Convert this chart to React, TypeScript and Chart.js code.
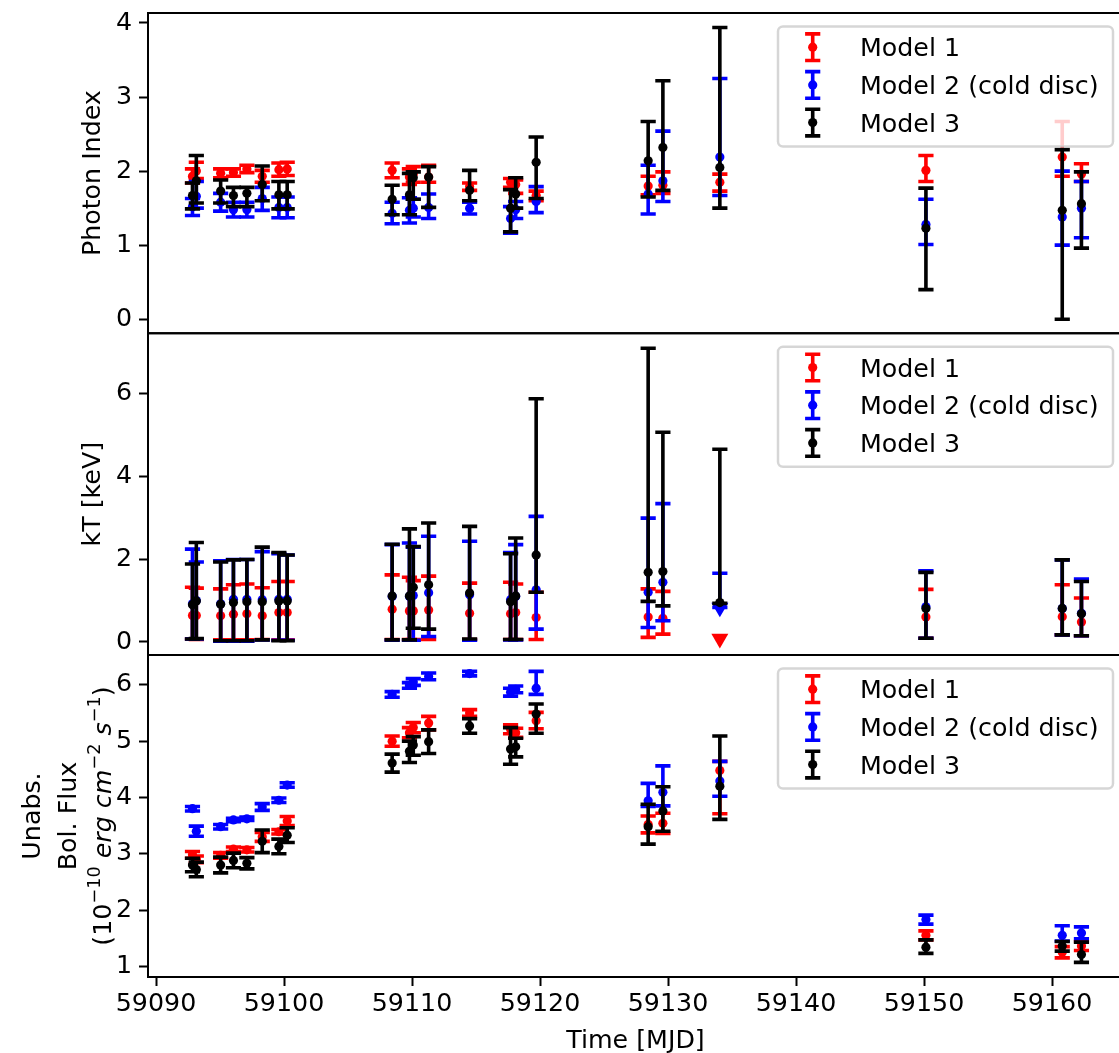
import React, { useEffect, useRef } from 'react';
import { Chart, registerables } from 'chart.js';

Chart.register(...registerables);

const FONT_FAMILY = '"DejaVu Sans", sans-serif';
const FONT_SIZE = 25.3;

// Observation epochs (MJD)
const mjd = [
  59092.85, 59093.15, 59095.05, 59096.05, 59097.1, 59098.3, 59099.6, 59100.25,
  59108.45, 59109.8, 59110.1, 59111.3, 59114.5, 59117.7, 59118.1, 59119.7,
  59128.45, 59129.6, 59134.05, 59150.15, 59160.8, 59162.3,
];

const xTicks = [59090, 59100, 59110, 59120, 59130, 59140, 59150, 59160];
const photonTicks = [0, 1, 2, 3, 4];
const kTTicks = [0, 2, 4, 6];
const fluxTicks = [1, 2, 3, 4, 5, 6];

const seriesNames = ['Model 1', 'Model 2 (cold disc)', 'Model 3'];

// Photon index
const photonM1 = [1.93, 2.0, 1.97, 1.98, 2.03, 1.93, 2.02, 2.03, 2.01, 1.92, 1.96, 1.92, 1.79, 1.85, 1.82, 1.67, 1.8, 1.81, 1.85, 2.01, 2.19, 1.96];
const photonM1Err = [[1.84, 2.03], [1.9, 2.12], [1.91, 2.03], [1.93, 2.03], [1.98, 2.08], [1.85, 2.01], [1.93, 2.11], [1.94, 2.12], [1.91, 2.11], [1.82, 2.03], [1.85, 2.06], [1.85, 2.08], [1.74, 1.84], [1.78, 1.9], [1.7, 1.88], [1.6, 1.73], [1.68, 1.93], [1.7, 1.99], [1.73, 1.96], [1.86, 2.21], [1.93, 2.67], [1.86, 2.1]];
const photonM2 = [1.52, 1.66, 1.58, 1.48, 1.48, 1.63, 1.51, 1.51, 1.43, 1.47, 1.5, 1.51, 1.5, 1.36, 1.48, 1.59, 1.69, 1.87, 2.19, 1.28, 1.38, 1.5];
const photonM2Err = [[1.4, 1.63], [1.5, 1.86], [1.46, 1.7], [1.38, 1.58], [1.38, 1.58], [1.47, 1.78], [1.37, 1.65], [1.37, 1.65], [1.29, 1.58], [1.3, 1.64], [1.38, 1.62], [1.36, 1.69], [1.42, 1.58], [1.16, 1.52], [1.36, 1.59], [1.44, 1.79], [1.42, 2.08], [1.59, 2.54], [1.67, 3.25], [1.01, 1.62], [1.0, 2.0], [1.1, 1.86]];
const photonM3 = [1.67, 1.87, 1.73, 1.67, 1.7, 1.82, 1.68, 1.68, 1.62, 1.68, 1.91, 1.92, 1.74, 1.5, 1.69, 2.12, 2.14, 2.32, 2.05, 1.23, 1.47, 1.56];
const photonM3Err = [[1.49, 1.84], [1.57, 2.21], [1.57, 1.88], [1.52, 1.78], [1.52, 1.78], [1.6, 2.07], [1.49, 1.86], [1.49, 1.86], [1.41, 1.81], [1.41, 1.97], [1.62, 1.99], [1.51, 2.06], [1.6, 2.01], [1.18, 1.75], [1.5, 1.91], [1.63, 2.46], [1.65, 2.67], [1.74, 3.22], [1.5, 3.94], [0.4, 1.77], [0.0, 2.29], [0.96, 1.99]];

// Temperature kT [keV]; index 18 of models 1 and 2 is an upper limit
const kTM1 = [0.64, 0.64, 0.63, 0.67, 0.68, 0.63, 0.71, 0.71, 0.79, 0.75, 0.75, 0.77, 0.69, 0.68, 0.71, 0.59, 0.6, 0.57, 0.08, 0.6, 0.61, 0.48];
const kTM1Err = [[0.07, 1.32], [0.06, 1.3], [0.05, 1.28], [0.05, 1.38], [0.05, 1.4], [0.06, 1.31], [0.05, 1.46], [0.05, 1.46], [0.06, 1.62], [0.06, 1.56], [0.06, 1.48], [0.06, 1.59], [0.06, 1.42], [0.06, 1.44], [0.06, 1.4], [0.06, 1.2], [0.11, 1.28], [0.19, 1.22], null, [0.09, 1.27], [0.17, 1.38], [0.15, 1.06]];
const kTM2 = [0.92, 1.0, 0.92, 1.03, 1.03, 1.02, 1.03, 1.03, 1.1, 1.1, 1.12, 1.19, 1.14, 1.02, 1.1, 1.26, 1.2, 1.44, 0.83, 0.85, 0.81, 0.69];
const kTM2Err = [[0.07, 2.24], [0.07, 1.93], [0.02, 1.96], [0.02, 1.99], [0.02, 1.99], [0.05, 2.18], [0.04, 2.13], [0.04, 2.1], [0.04, 2.35], [0.04, 2.39], [0.04, 2.29], [0.13, 2.55], [0.04, 2.43], [0.05, 2.16], [0.05, 2.35], [0.31, 3.03], [0.35, 2.99], [0.51, 3.34], [0.83, 1.66], [0.09, 1.72], [0.17, 1.98], [0.15, 1.52]];
const kTM3 = [0.9, 0.99, 0.91, 0.95, 0.97, 0.97, 0.99, 0.99, 1.11, 1.11, 1.32, 1.38, 1.18, 0.97, 1.11, 2.1, 1.68, 1.7, 0.95, 0.81, 0.81, 0.68];
const kTM3Err = [[0.07, 1.88], [0.08, 2.4], [0.03, 1.93], [0.03, 1.98], [0.03, 1.99], [0.05, 2.29], [0.03, 2.16], [0.03, 2.1], [0.05, 2.36], [0.05, 2.73], [0.33, 2.3], [0.31, 2.87], [0.07, 2.79], [0.06, 2.13], [0.06, 2.51], [1.2, 5.87], [0.98, 7.09], [0.87, 5.06], [0.93, 4.65], [0.09, 1.68], [0.17, 1.98], [0.15, 1.46]];
const kTUpperLimits = [18];

// Unabsorbed bolometric flux [1e-10 erg/cm^2/s]
const fluxM1 = [2.98, 2.9, 2.97, 3.08, 3.07, 3.3, 3.39, 3.58, 5.0, 5.15, 5.24, 5.32, 5.5, 5.21, 5.15, 5.36, 3.52, 3.54, 4.48, 1.55, 1.25, 1.36];
const fluxM1Err = [[2.92, 3.04], [2.84, 2.96], [2.92, 3.02], [3.04, 3.12], [3.03, 3.11], [3.22, 3.38], [3.35, 3.43], [3.5, 3.66], [4.91, 5.09], [5.06, 5.24], [5.15, 5.33], [5.2, 5.44], [5.44, 5.56], [5.13, 5.29], [5.07, 5.23], [5.22, 5.51], [3.37, 3.67], [3.36, 3.72], [3.71, 4.64], [1.47, 1.63], [1.15, 1.35], [1.28, 1.44]];
const fluxM2 = [3.8, 3.4, 3.48, 3.6, 3.62, 3.83, 3.95, 4.22, 5.83, 5.99, 6.05, 6.15, 6.2, 5.87, 5.92, 5.94, 3.94, 4.09, 4.29, 1.83, 1.55, 1.59];
const fluxM2Err = [[3.76, 3.84], [3.31, 3.49], [3.44, 3.52], [3.57, 3.63], [3.59, 3.65], [3.77, 3.89], [3.91, 3.99], [4.18, 4.26], [5.78, 5.88], [5.94, 6.04], [5.99, 6.11], [6.09, 6.21], [6.16, 6.24], [5.8, 5.94], [5.86, 5.98], [5.83, 6.24], [3.84, 4.25], [3.85, 4.56], [4.02, 4.64], [1.75, 1.91], [1.45, 1.72], [1.49, 1.7]];
const fluxM3 = [2.8, 2.72, 2.8, 2.88, 2.83, 3.22, 3.13, 3.33, 4.61, 4.82, 4.93, 4.99, 5.27, 4.86, 4.9, 5.48, 3.48, 3.76, 4.2, 1.34, 1.36, 1.21];
const fluxM3Err = [[2.68, 2.92], [2.59, 2.85], [2.66, 2.94], [2.75, 3.01], [2.73, 2.93], [3.02, 3.42], [3.0, 3.26], [3.2, 3.46], [4.45, 4.77], [4.62, 5.0], [4.75, 5.08], [4.78, 5.2], [5.14, 5.4], [4.59, 5.24], [4.72, 5.05], [5.14, 5.66], [3.17, 3.88], [3.4, 4.19], [3.61, 5.09], [1.23, 1.47], [1.27, 1.44], [1.07, 1.43]];

const RED = '#ff0000';
const BLUE = '#0000ff';
const BLACK = '#000000';
const colors = [RED, BLUE, BLACK];

const BAR_WIDTH = 3.6;
const CAP_HALF = 7.6;
const DOT_RADIUS = 4.6;

function makeSeries(axis: string, vals: number[], errs: (number[] | null)[], model: number, limits: number[] = []) {
  const color = colors[model];
  return {
    type: 'scatter' as const,
    label: seriesNames[model],
    yAxisID: axis,
    order: 3 - model,
    data: mjd.map((x, i) => ({
      x,
      y: vals[i],
      lo: errs[i] ? (errs[i] as number[])[0] : null,
      hi: errs[i] ? (errs[i] as number[])[1] : null,
    })),
    backgroundColor: color,
    borderColor: color,
    pointBackgroundColor: color,
    pointBorderWidth: 0,
    pointRadius: mjd.map((_, i) => (limits.includes(i) ? 9.8 : DOT_RADIUS)),
    pointStyle: mjd.map((_, i) => (limits.includes(i) ? 'triangle' : 'circle')),
    pointRotation: mjd.map((_, i) => (limits.includes(i) ? 180 : 0)),
    showLine: false,
    clip: false as const,
  };
}

// Vertical error bars with caps, drawn just before each series' markers
const errorBarPlugin = {
  id: 'errorBars',
  beforeDatasetDraw(chart: any, args: any) {
    const ds = chart.data.datasets[args.index];
    const yScale = chart.scales[ds.yAxisID];
    const ctx = chart.ctx;
    ctx.save();
    ctx.strokeStyle = ds.borderColor;
    ctx.lineWidth = BAR_WIDTH;
    ctx.lineCap = 'butt';
    args.meta.data.forEach((pt: any, i: number) => {
      const d = ds.data[i];
      if (d.lo == null || d.hi == null) return;
      const x = pt.x;
      const yLo = yScale.getPixelForValue(d.lo);
      const yHi = yScale.getPixelForValue(d.hi);
      ctx.beginPath();
      ctx.moveTo(x, yLo);
      ctx.lineTo(x, yHi);
      ctx.moveTo(x - CAP_HALF, yLo);
      ctx.lineTo(x + CAP_HALF, yLo);
      ctx.moveTo(x - CAP_HALF, yHi);
      ctx.lineTo(x + CAP_HALF, yHi);
      ctx.stroke();
    });
    ctx.restore();
  },
};

type Seg = { t: string; italic?: boolean; sup?: boolean };

function drawRich(ctx: CanvasRenderingContext2D, segs: Seg[], cx: number, baseline: number) {
  const font = (s: Seg) =>
    `${s.italic ? 'italic ' : ''}${s.sup ? FONT_SIZE * 0.7 : FONT_SIZE}px ${FONT_FAMILY}`;
  let total = 0;
  const widths = segs.map((s) => {
    ctx.font = font(s);
    const w = ctx.measureText(s.t).width;
    total += w;
    return w;
  });
  let x = cx - total / 2;
  ctx.textAlign = 'left';
  ctx.textBaseline = 'alphabetic';
  segs.forEach((s, i) => {
    ctx.font = font(s);
    ctx.fillText(s.t, x, s.sup ? baseline - FONT_SIZE * 0.42 : baseline);
    x += widths[i];
  });
}

// Panel frames, axis titles and per-panel legends
const decorPlugin = {
  id: 'decor',
  afterDatasetsDraw(chart: any) {
    const ctx: CanvasRenderingContext2D = chart.ctx;
    const { left, right } = chart.chartArea;
    const panels = ['yPI', 'yKT', 'yFlux'].map((id) => chart.scales[id]);

    // frames
    ctx.save();
    ctx.strokeStyle = BLACK;
    ctx.lineWidth = 2;
    panels.forEach((s: any) => {
      ctx.beginPath();
      ctx.moveTo(right + 4, s.top);
      ctx.lineTo(left, s.top);
      ctx.lineTo(left, s.bottom);
      ctx.lineTo(right + 4, s.bottom);
      ctx.stroke();
    });
    ctx.restore();

    // legends
    panels.forEach((s: any) => {
      const bx = 778;
      const by = s.top + 13.5;
      const bw = 335;
      const bh = 120;
      ctx.save();
      ctx.beginPath();
      (ctx as any).roundRect(bx, by, bw, bh, 5);
      ctx.fillStyle = 'rgba(255,255,255,0.8)';
      ctx.fill();
      ctx.strokeStyle = 'rgba(204,204,204,0.8)';
      ctx.lineWidth = 2.5;
      ctx.stroke();
      const rows = [20.7, 58.4, 96.1];
      rows.forEach((r, k) => {
        const hx = 812.7;
        const hy = by + r;
        ctx.strokeStyle = colors[k];
        ctx.fillStyle = colors[k];
        ctx.lineWidth = BAR_WIDTH;
        ctx.beginPath();
        ctx.moveTo(hx, hy - 13.3);
        ctx.lineTo(hx, hy + 13.3);
        ctx.moveTo(hx - CAP_HALF, hy - 13.3);
        ctx.lineTo(hx + CAP_HALF, hy - 13.3);
        ctx.moveTo(hx - CAP_HALF, hy + 13.3);
        ctx.lineTo(hx + CAP_HALF, hy + 13.3);
        ctx.stroke();
        ctx.beginPath();
        ctx.arc(hx, hy, DOT_RADIUS, 0, Math.PI * 2);
        ctx.fill();
        ctx.fillStyle = BLACK;
        ctx.font = `${FONT_SIZE}px ${FONT_FAMILY}`;
        ctx.textAlign = 'left';
        ctx.textBaseline = 'alphabetic';
        ctx.fillText(seriesNames[k], 860, hy + 9.2);
      });
      ctx.restore();
    });

    // y axis titles (rotated)
    ctx.save();
    ctx.fillStyle = BLACK;
    const rotated = (x: number, y: number, fn: () => void) => {
      ctx.save();
      ctx.translate(x, y);
      ctx.rotate(-Math.PI / 2);
      fn();
      ctx.restore();
    };
    const mid = (s: any) => (s.top + s.bottom) / 2;
    rotated(100, mid(panels[0]), () => drawRich(ctx, [{ t: 'Photon Index' }], 0, 0));
    rotated(100, mid(panels[1]), () => drawRich(ctx, [{ t: 'kT [keV]' }], 0, 0));
    rotated(40, mid(panels[2]), () => drawRich(ctx, [{ t: 'Unabs.' }], 0, 0));
    rotated(76, mid(panels[2]), () => drawRich(ctx, [{ t: 'Bol. Flux' }], 0, 0));
    rotated(111, mid(panels[2]), () =>
      drawRich(
        ctx,
        [
          { t: '(10' },
          { t: '\u221210', sup: true },
          { t: ' ' },
          { t: 'erg', italic: true },
          { t: ' ' },
          { t: 'cm', italic: true },
          { t: '\u22122', sup: true },
          { t: ' ' },
          { t: 's', italic: true },
          { t: '\u22121', sup: true },
          { t: ')' },
        ],
        0,
        0,
      ),
    );

    // x axis title
    drawRich(ctx, [{ t: 'Time [MJD]' }], (left + right) / 2 + 2, 1048);
    ctx.restore();
  },
};

const tickFont = { family: FONT_FAMILY, size: FONT_SIZE };

function yScale(ticks: number[], min: number, max: number, weight: number, stackWeight: number) {
  return {
    type: 'linear' as const,
    position: 'left' as const,
    stack: 'panels',
    stackWeight,
    weight,
    min,
    max,
    afterBuildTicks: (s: any) => {
      s.ticks = ticks.map((v) => ({ value: v }));
    },
    afterFit: (s: any) => {
      s.width = 148;
      s.paddingTop = 0;
      s.paddingBottom = 0;
      s.paddingLeft = 0;
      s.paddingRight = 0;
    },
    ticks: {
      font: tickFont,
      color: BLACK,
      padding: 7,
      callback: (v: any) => String(v),
    },
    grid: {
      drawOnChartArea: false,
      drawTicks: true,
      tickLength: 9,
      tickWidth: 2,
      tickColor: BLACK,
    },
    border: { display: false },
  };
}

export default function App() {
  const canvasRef = useRef<HTMLCanvasElement>(null);

  useEffect(() => {
    document.body.style.margin = '0';
    Chart.defaults.font.family = FONT_FAMILY;
    const chart = new Chart(canvasRef.current as HTMLCanvasElement, {
      type: 'scatter',
      data: {
        datasets: [
          makeSeries('yPI', photonM1, photonM1Err, 0),
          makeSeries('yPI', photonM2, photonM2Err, 1),
          makeSeries('yPI', photonM3, photonM3Err, 2),
          makeSeries('yKT', kTM1, kTM1Err, 0, kTUpperLimits),
          makeSeries('yKT', kTM2, kTM2Err, 1, kTUpperLimits),
          makeSeries('yKT', kTM3, kTM3Err, 2),
          makeSeries('yFlux', fluxM1, fluxM1Err, 0),
          makeSeries('yFlux', fluxM2, fluxM2Err, 1),
          makeSeries('yFlux', fluxM3, fluxM3Err, 2),
        ] as any,
      },
      options: {
        responsive: false,
        animation: false,
        devicePixelRatio: 1,
        events: [],
        layout: { autoPadding: false, padding: { top: 13, left: 0, right: 0, bottom: 0 } },
        plugins: {
          legend: { display: false },
          tooltip: { enabled: false },
        },
        scales: {
          x: {
            type: 'linear',
            position: 'bottom',
            min: 59089.375,
            max: 59165.234,
            afterBuildTicks: (s: any) => {
              s.ticks = xTicks.map((v) => ({ value: v }));
            },
            afterFit: (s: any) => {
              s.height = 76;
              s.paddingTop = 0;
              s.paddingBottom = 0;
              s.paddingLeft = 0;
              s.paddingRight = 0;
            },
            ticks: {
              font: tickFont,
              color: BLACK,
              padding: 3,
              maxRotation: 0,
              autoSkip: false,
              callback: (v: any) => String(v),
            },
            grid: {
              drawOnChartArea: false,
              drawTicks: true,
              tickLength: 9,
              tickWidth: 2,
              tickColor: BLACK,
            },
            border: { display: false },
          },
          yFlux: yScale(fluxTicks, 0.81, 6.53, 1, 322),
          yKT: yScale(kTTicks, -0.315, 7.45, 2, 321.7),
          yPI: yScale(photonTicks, -0.19, 4.135, 3, 320.3),
        } as any,
      },
      plugins: [errorBarPlugin, decorPlugin],
    });
    return () => chart.destroy();
  }, []);

  return (
    <canvas
      ref={canvasRef}
      width={1119}
      height={1053}
      style={{ display: 'block', width: 1119, height: 1053 }}
    />
  );
}
